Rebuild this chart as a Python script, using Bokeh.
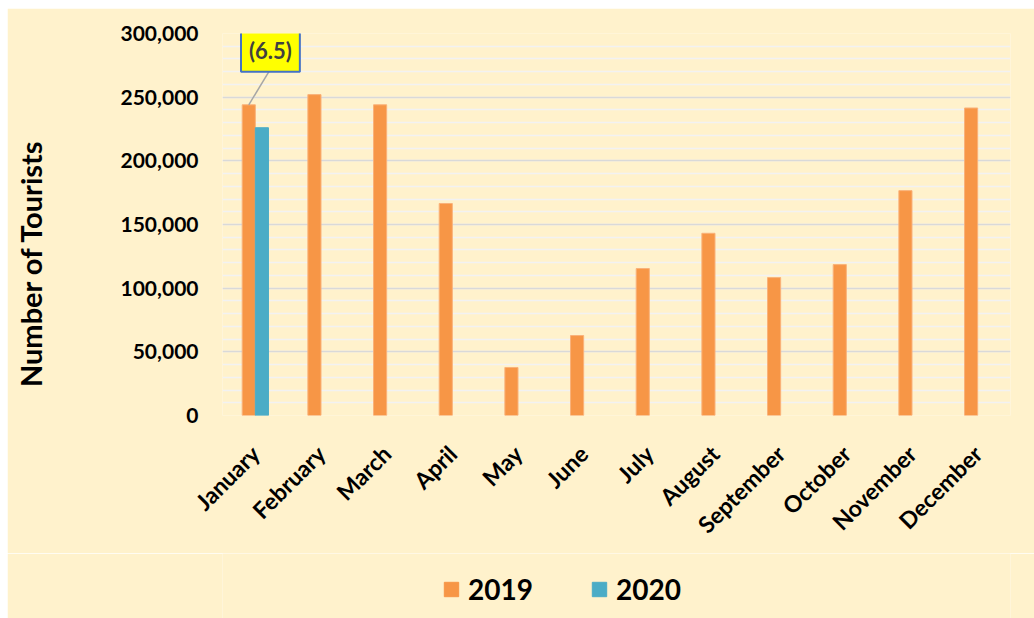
from math import pi
from bokeh.plotting import figure
from bokeh.layouts import column
from bokeh.models import (ColumnDataSource, FactorRange, Range1d, SingleIntervalTicker,
                          NumeralTickFormatter, Legend, LegendItem, Label)
from bokeh.transform import dodge
from bokeh.embed import file_html
from bokeh.resources import INLINE

months = ["January", "February", "March", "April", "May", "June", "July",
          "August", "September", "October", "November", "December"]
tourists_2019 = [244000, 252000, 244000, 166500, 37700, 62800, 115400,
                 143100, 108300, 118500, 176600, 241500]
months_2020 = ["January"]
tourists_2020 = [226000]
series_names = ["2019", "2020"]
annotation_text = "(6.5)"
y_title = "Number of Tourists"

BG = "#FFF2CC"
ORANGE = "#F79646"
BLUE = "#4BACC6"
FONT = "Lato"

p = figure(x_range=FactorRange(*months, range_padding=0), y_range=Range1d(0, 300000),
           width=1027, height=545, output_backend="svg", toolbar_location=None,
           min_border_left=215, min_border_right=24, min_border_top=25, min_border_bottom=138)
p.margin = (8, 0, 0, 7)
p.background_fill_color = BG
p.border_fill_color = BG
p.outline_line_color = None

src19 = ColumnDataSource(dict(month=months, value=tourists_2019))
src20 = ColumnDataSource(dict(month=months_2020, value=tourists_2020))
r19 = p.vbar(x=dodge("month", -0.1, range=p.x_range), top="value", width=0.2, source=src19,
             fill_color=ORANGE, line_color="#F9B27A", line_width=1)
r20 = p.vbar(x=dodge("month", 0.1, range=p.x_range), top="value", width=0.2, source=src20,
             fill_color=BLUE, line_color=BLUE, line_width=1)

# grid
p.xgrid.grid_line_color = None
p.yaxis.ticker = SingleIntervalTicker(interval=50000, num_minor_ticks=5)
p.ygrid.grid_line_color = "#D9D9D9"
p.ygrid.grid_line_width = 1.5
p.ygrid.minor_grid_line_color = "#F2F2F2"
p.ygrid.minor_grid_line_width = 1.5
p.ygrid.level = "image"

# y axis
p.yaxis.formatter = NumeralTickFormatter(format="0,0")
p.yaxis.axis_line_color = None
p.yaxis.major_tick_line_color = None
p.yaxis.minor_tick_line_color = None
p.yaxis.major_tick_out = 0
p.yaxis.minor_tick_out = 0
p.yaxis.major_label_standoff = 24
p.yaxis.major_label_text_font = FONT
p.yaxis.major_label_text_font_style = "bold"
p.yaxis.major_label_text_font_size = "21px"
p.yaxis.major_label_text_color = "#000000"
# trailing no-break spaces shift the visible title slightly downward, as in the original
p.yaxis.axis_label = y_title + "\u00a0" * 11
p.yaxis.axis_label_text_font = FONT
p.yaxis.axis_label_text_font_style = "bold"
p.yaxis.axis_label_text_font_size = "29px"
p.yaxis.axis_label_text_color = "#000000"
p.yaxis.axis_label_standoff = 70

# x axis
p.xaxis.axis_line_color = None
p.xaxis.major_tick_line_color = None
p.xaxis.minor_tick_line_color = None
p.xaxis.major_tick_out = 0
p.xaxis.major_label_orientation = pi / 4
p.xaxis.major_label_standoff = 34
p.xaxis.major_label_text_font = FONT
p.xaxis.major_label_text_font_style = "bold"
p.xaxis.major_label_text_font_size = "23px"
p.xaxis.major_label_text_color = "#000000"

# annotation callout for January
jan_x = months.index("January") + 0.5 - 0.1
jan_y = tourists_2019[0]
LEADER_DX = 0.33
LEADER_DY = 28000
p.segment(x0=[jan_x], y0=[jan_y], x1=[jan_x + LEADER_DX], y1=[jan_y + LEADER_DY],
          line_color="#A6A6A6", line_width=1.5)
callout = Label(x=jan_x + LEADER_DX, y=jan_y + LEADER_DY, y_offset=19, text=annotation_text,
                text_align="center", text_baseline="middle", text_font=FONT,
                text_font_style="bold", text_font_size="22px", text_color="#404040",
                background_fill_color="#FFFF00", border_line_color="#4472C4",
                border_line_width=2, padding=8)
p.add_layout(callout)

# legend strip below the chart (legend-only renderers carry no visible data)
p2 = figure(width=1027, height=65, output_backend="svg", toolbar_location=None,
            x_axis_location=None, y_axis_location=None,
            min_border_left=215, min_border_right=24, min_border_top=0, min_border_bottom=0,
            x_range=Range1d(0, 1), y_range=Range1d(0, 1))
p2.margin = (0, 0, 0, 7)
p2.background_fill_color = BG
p2.border_fill_color = BG
p2.outline_line_color = None
p2.grid.visible = False
nan = float("nan")
lr19 = p2.vbar(x=[nan], top=[nan], width=0.2, fill_color=ORANGE, line_color=ORANGE)
lr20 = p2.vbar(x=[nan], top=[nan], width=0.2, fill_color=BLUE, line_color=BLUE)

legend = Legend(items=[LegendItem(label=series_names[0], renderers=[lr19]),
                       LegendItem(label=series_names[1], renderers=[lr20])],
                orientation="horizontal", location=(220, 12),
                glyph_width=18, glyph_height=18, label_standoff=8, spacing=57,
                label_text_font=FONT, label_text_font_style="bold",
                label_text_font_size="28px", label_text_color="#000000",
                background_fill_alpha=0, border_line_color=None)
p2.add_layout(legend)

layout = column(p, p2, spacing=0)
open("out.html", "w").write(file_html(layout, INLINE))
